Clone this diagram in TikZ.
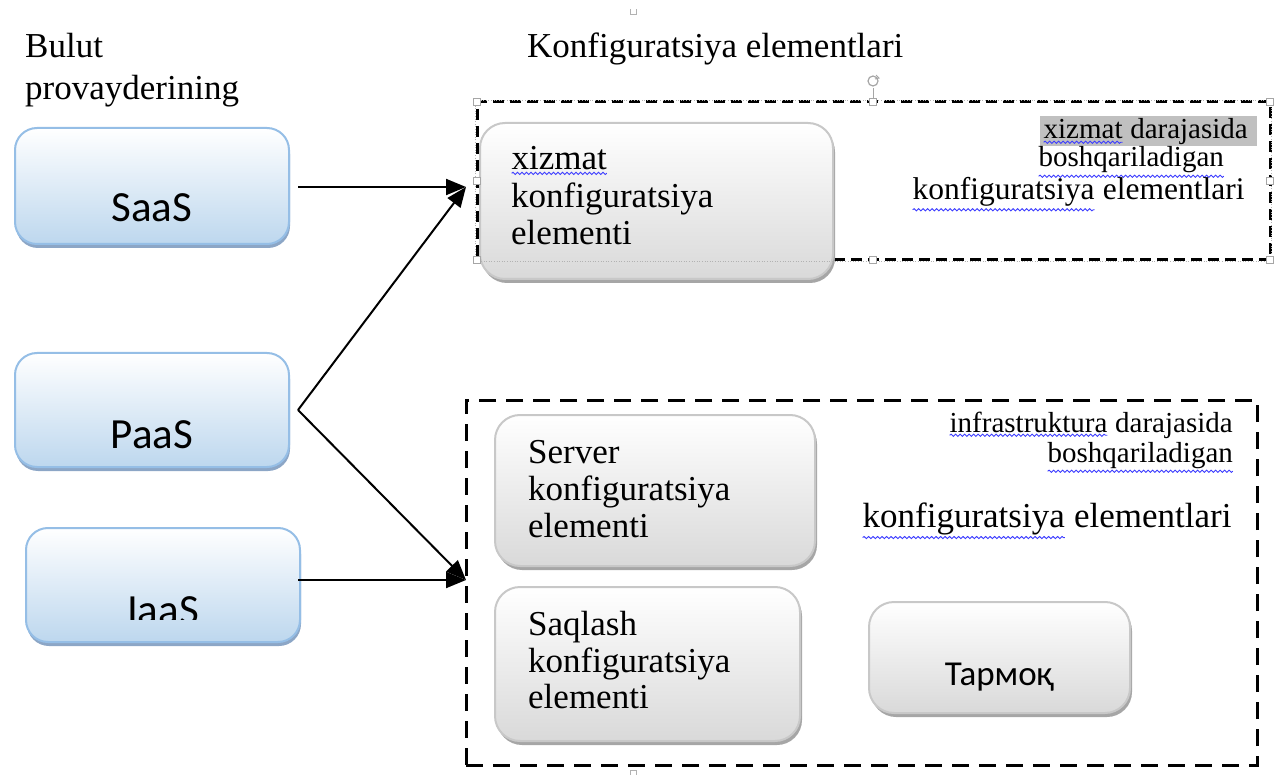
\documentclass[tikz,border=0pt]{standalone}
\usepackage{fontspec}
\setmainfont{Liberation Serif}
\newfontfamily\boxsans{Carlito}
\usetikzlibrary{arrows.meta,decorations.pathmorphing,shadows}
\definecolor{bluebd}{HTML}{95BEE6}
\definecolor{bluebot}{HTML}{BDD7EE}
\definecolor{blueshd}{HTML}{8CA6C6}
\definecolor{graybd}{HTML}{C8C8C8}
\definecolor{graybot}{HTML}{D9D9D9}
\definecolor{grayshd}{HTML}{A6A6A6}
\definecolor{hlgray}{HTML}{C0C0C0}
\definecolor{wavec}{HTML}{3C3CFF}
\newcommand\fmain{\fontsize{35}{38}\selectfont}
\newcommand\fsmall{\fontsize{29}{32}\selectfont}
\newcommand\wv[1]{\tikz[baseline=(w.base)]{\node[inner sep=0pt,outer sep=0pt,anchor=base](w){#1};\draw[wavyline]([yshift=-3pt]w.south west)--([yshift=-3pt]w.south east);}}
\tikzset{
  wavyline/.style={wavec, line width=0.9pt, decorate, decoration={snake, amplitude=1.1pt, segment length=4.5pt}},
  bluebox/.style={draw=bluebd, line width=2pt, rounded corners=22pt, top color=white, bottom color=bluebot,
    drop shadow={shadow xshift=1pt, shadow yshift=-4pt, fill=blueshd, opacity=1}, inner sep=0pt},
  graybox/.style={draw=graybd, line width=2pt, rounded corners=25pt, top color=white, bottom color=graybot,
    drop shadow={shadow xshift=2pt, shadow yshift=-4pt, fill=grayshd, opacity=1}, inner sep=0pt},
  dashbox/.style={draw=black, line width=3pt, inner sep=0pt},
  serif/.style={font=\fmain, inner sep=0pt, anchor=base west},
  small/.style={font=\fsmall, inner sep=0pt, anchor=base west},
  sanslbl/.style={font=\boxsans\fontsize{43}{46}\selectfont, inner sep=0pt, anchor=base},
  arr/.style={line width=2pt, -{Triangle[length=20pt,width=16pt]}},
  handle/.style={draw=gray!70, fill=white, line width=0.8pt},
}
\begin{document}
\begin{tikzpicture}[x=1pt,y=-1pt]
\useasboundingbox (0,0) rectangle (1274,775);

% left labels
\node[serif] (bul1) at (25,58) {Bulut};
\node[serif] (bul2) at (25,100) {provayderining};
\node[serif] (title) at (527,58) {Konfiguratsiya elementlari};

% dashed containers
\node[dashbox, dash pattern=on 11pt off 6pt, minimum width=793pt, minimum height=158pt] (topc) at (873.5,181) {};
\node[dashbox, dash pattern=on 17pt off 10pt, minimum width=791pt, minimum height=365pt] (botc) at (861.5,582.5) {};

% blue boxes
\node[bluebox, minimum width=274pt, minimum height=116pt] (saas) at (152,186) {};
\node[sanslbl] (saast) at (152,222) {SaaS};
\node[bluebox, minimum width=274pt, minimum height=114pt] (paas) at (152,410) {};
\node[sanslbl] (paast) at (152,448) {PaaS};
\node[bluebox, minimum width=274pt, minimum height=114pt] (iaas) at (163,585) {};
\begin{scope}
\clip (0,0) rectangle (1274,619);
\node[sanslbl] (iaast) at (163,624) {IaaS};
\end{scope}

% gray boxes
\node[graybox, minimum width=353pt, minimum height=156pt] (xiz) at (656.5,201) {};
\node[serif] (xiz1) at (511,170) {\wv{xizmat}};
\node[serif] (xiz2) at (511,208) {konfiguratsiya};
\node[serif] (xiz3) at (511,245) {elementi};

\node[graybox, minimum width=320pt, minimum height=151pt] (srv) at (655,490.5) {};
\node[serif] (srv1) at (528,463) {Server};
\node[serif] (srv2) at (528,500) {konfiguratsiya};
\node[serif] (srv3) at (528,537) {elementi};

\node[graybox, minimum width=305pt, minimum height=154pt] (saq) at (647.5,664) {};
\node[serif] (saq1) at (528,635) {Saqlash};
\node[serif] (saq2) at (528,672) {konfiguratsiya};
\node[serif] (saq3) at (528,708) {elementi};

\node[graybox, minimum width=261pt, minimum height=111pt] (tar) at (999.5,657.5) {};
\node[font=\boxsans\fontsize{35}{38}\selectfont, inner sep=0pt, anchor=base] (tart) at (999.5,685) {Тармоқ};

% top right text
\fill[hlgray] (1040,116) rectangle (1257,146);
\node[small] (tr1) at (1043,139) {\wv{xizmat} darajasida};
\node[small] (tr2) at (1038,167) {\wv{boshqariladigan}};
\node[font=\fontsize{31.5}{34}\selectfont, inner sep=0pt, anchor=base west] (tr3) at (912,200) {\wv{konfiguratsiya} elementlari};

% bottom right text
\node[small] (br1) at (949,432) {\wv{infrastruktura} darajasida};
\node[small] (br2) at (1047,462) {\wv{boshqariladigan}};
\node[serif] (br3) at (862,527) {\wv{konfiguratsiya} elementlari};

% selection frame and handles
\draw[gray!60, line width=0.6pt, dotted] (topc.north west) rectangle (topc.south east);
\foreach \p in {(477,102),(873,102),(1270,102),(477,181),(1270,181),(477,260),(873,260),(1270,260)}
  \draw[handle] \p ++(-3.5,-3.5) rectangle ++(7,7);
\draw[gray!70, line width=0.8pt] (873,98.5) -- (873,88);
\draw[gray!70, line width=1.2pt] (873,81) circle[radius=5pt];
\draw[gray!70, line width=1pt] (876,75) -- (879,78) -- (875,79);
\draw[gray!60, line width=0.6pt] (630,9) -- (630,14) -- (636,14) -- (636,9);
\draw[gray!60, line width=0.6pt] (630,775) -- (630,770) -- (636,770) -- (636,775);

% connectors
\coordinate (tin) at (466,187);
\coordinate (bin) at (466,580);
\coordinate (pfork) at ([xshift=8pt]paas.east);
\draw[arr] ([xshift=8pt]saas.east |- tin) -- (tin);
\draw[arr] (pfork) -- (tin);
\draw[arr] (pfork) -- (bin);
\draw[arr] ([xshift=-3pt]iaas.east |- bin) -- (bin);
\end{tikzpicture}
\end{document}
